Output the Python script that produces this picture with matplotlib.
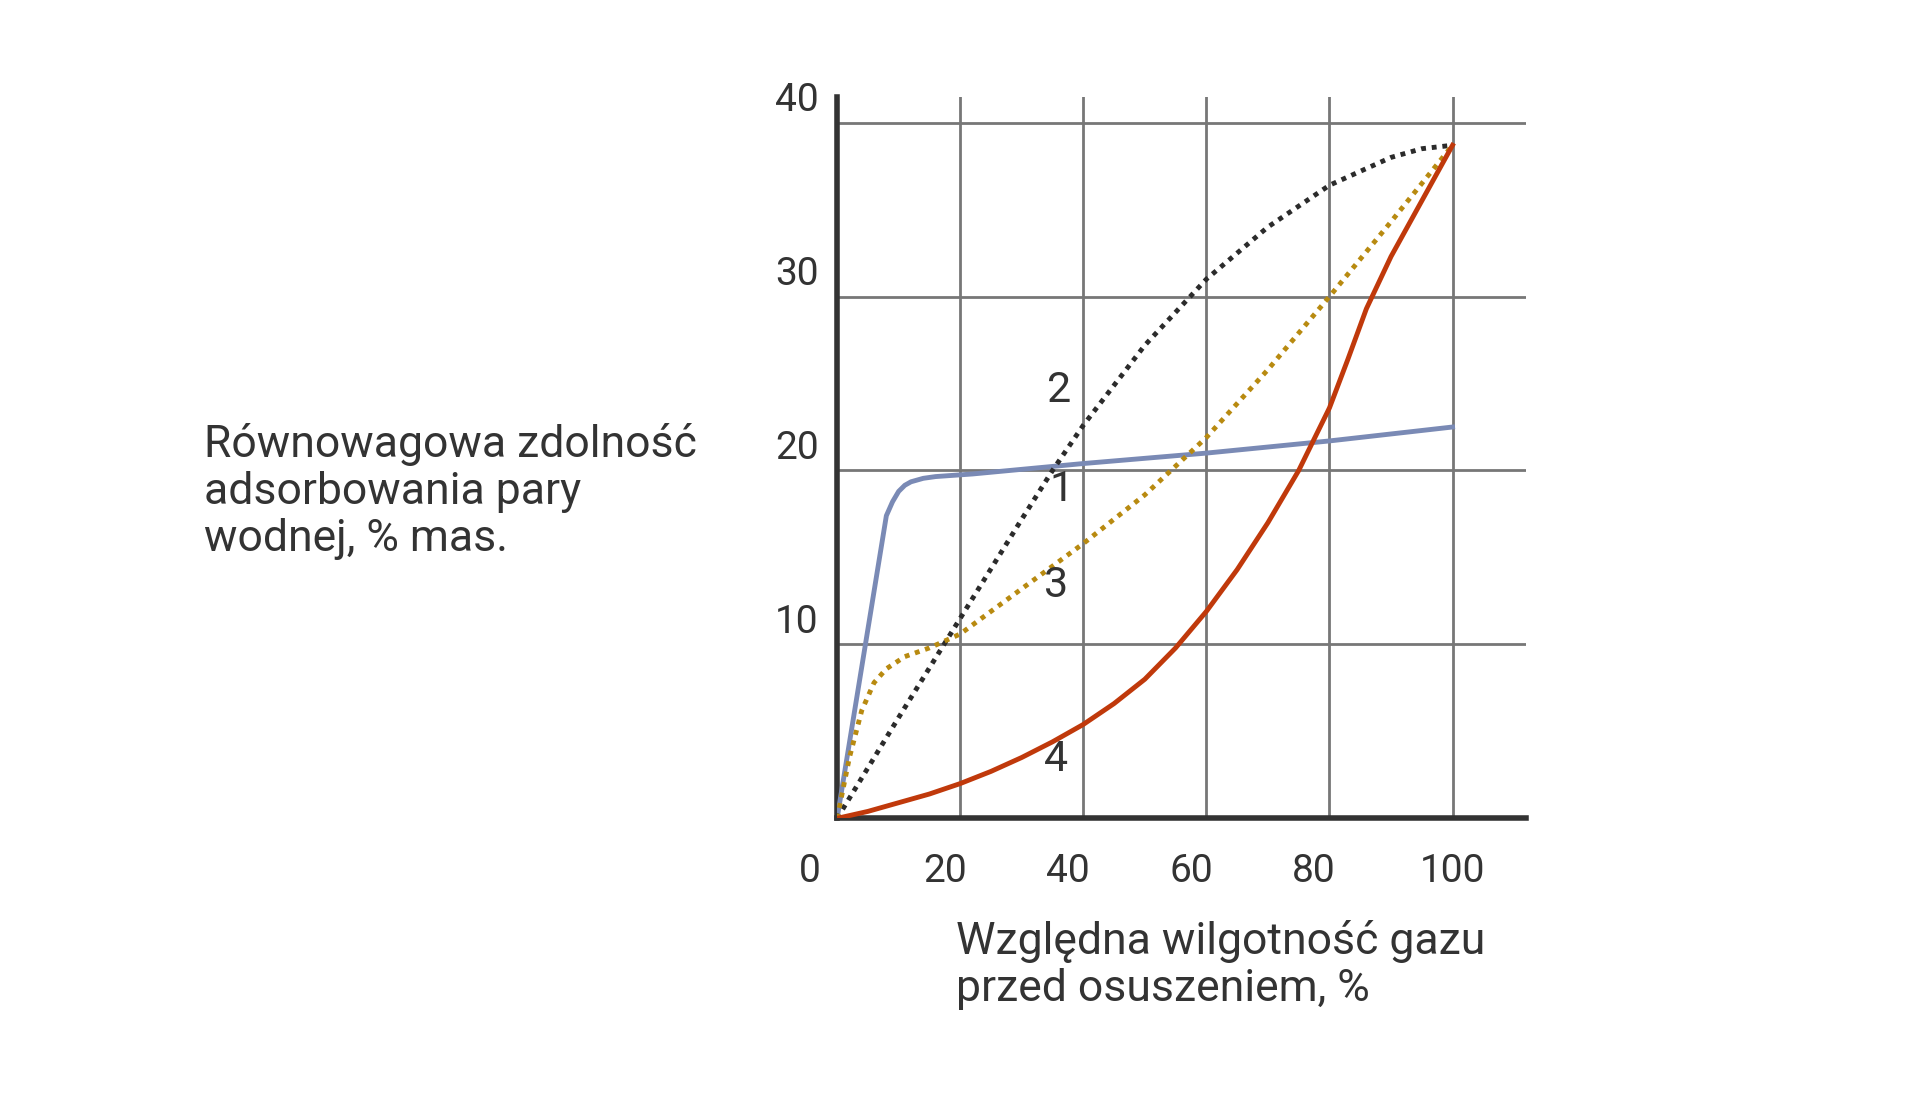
import matplotlib.pyplot as plt

plt.rcParams['font.family'] = ['Roboto', 'DejaVu Sans']

# curve 1 - blue
x1 = [0, 8, 9, 10, 11, 12, 14, 16, 20, 22, 40, 60, 80, 100]
y1 = [0, 17.4, 18.2, 18.8, 19.15, 19.35, 19.55, 19.65, 19.75, 19.8, 20.4, 21.0, 21.7, 22.5]
# curve 2 - black dotted
x2 = [0, 10, 20, 30, 35, 40, 50, 60, 70, 80, 90, 95, 100]
y2 = [0, 5.8, 11.5, 17.2, 20.0, 22.6, 27.2, 31.0, 34.0, 36.4, 38.0, 38.5, 38.7]
# curve 3 - gold dotted
x3 = [0, 2, 4, 6, 8, 11, 15, 20, 30, 40, 50, 60, 70, 80, 90, 100]
y3 = [0, 3.5, 6.2, 7.8, 8.6, 9.3, 9.8, 10.6, 13.2, 15.8, 18.6, 21.9, 25.8, 30.0, 34.3, 38.7]
# curve 4 - red
x4 = [0, 5, 10, 15, 20, 25, 30, 35, 40, 45, 50, 55, 60, 65, 70, 75, 80, 83, 86, 90, 95, 100]
y4 = [0, 0.4, 0.9, 1.4, 2.0, 2.7, 3.5, 4.4, 5.4, 6.6, 8.0, 9.8, 11.9, 14.3, 17.0, 20.0, 23.6, 26.4, 29.3, 32.3, 35.5, 38.7]

xticks = [20, 40, 60, 80, 100]
yticks = [10, 20, 30, 40]
dark = '#333333'

fig = plt.figure(figsize=(19.2, 10.97), dpi=100)
ax = fig.add_axes([0.436, 0.254, 0.359, 0.658])
ax.set_xlim(0, 112)
ax.set_ylim(0, 41.5)

for x in xticks:
    ax.plot([x, x], [0, 41.5], color='#777777', lw=2, zorder=1)
for y in yticks:
    ax.plot([0, 112], [y, y], color='#777777', lw=2, zorder=1)

ax.plot(x1, y1, color='#7a8ab5', lw=3.5, zorder=3)
ax.plot(x2, y2, color='#2b2b2b', lw=3.5, ls=(0, (1, 1.2)), zorder=3)
ax.plot(x3, y3, color='#b88a10', lw=3.5, ls=(0, (1, 1.2)), zorder=3)
ax.plot(x4, y4, color='#c0390b', lw=3.5, zorder=4)

for s in ['top', 'right']:
    ax.spines[s].set_visible(False)
for s in ['left', 'bottom']:
    ax.spines[s].set_color(dark)
    ax.spines[s].set_linewidth(4)
ax.set_xticks([])
ax.set_yticks([])

fs = 28
for x in xticks:
    ax.text(x - 2.5 if x < 100 else x, -2.0, str(x), ha='center', va='top', fontsize=fs, color=dark)
ax.text(-4.5, -2.0, '0', ha='center', va='top', fontsize=fs, color=dark)
for y in yticks:
    ax.text(-3, y + 0.2, str(y), ha='right', va='bottom', fontsize=fs, color=dark)

for lab, x, y in [('2', 36, 24.6), ('1', 36.4, 18.9), ('3', 35.6, 13.4), ('4', 35.6, 3.4)]:
    ax.text(x, y, lab, ha='center', va='center', fontsize=31, color=dark)

fig.text(0.106, 0.552, 'Równowagowa zdolność\nadsorbowania pary\nwodnej, % mas.',
         ha='left', va='center', fontsize=32, color=dark, linespacing=1.15)
fig.text(0.498, 0.12, 'Względna wilgotność gazu\nprzed osuszeniem, %',
         ha='left', va='center', fontsize=32, color=dark, linespacing=1.15)

fig.savefig('out.png', dpi=100)
